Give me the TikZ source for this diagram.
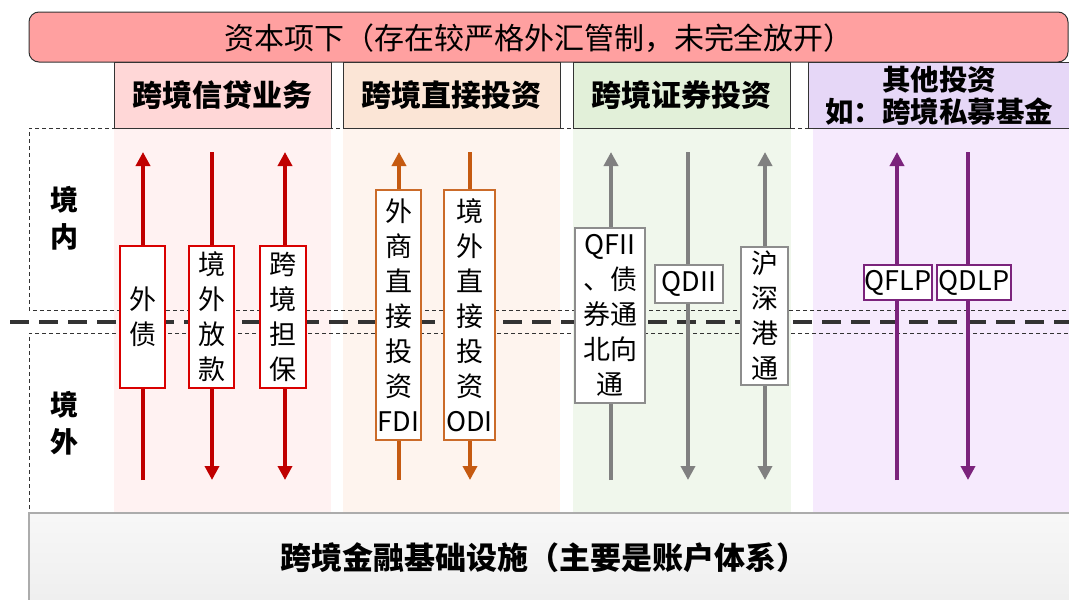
\documentclass[tikz,border=0pt]{standalone}
\usepackage{fontspec}
\newfontfamily\cjk{Noto Sans CJK SC}
\usetikzlibrary{arrows.meta}
\definecolor{banner}{HTML}{FFA0A0}
\definecolor{hA}{HTML}{FFD7D7}
\definecolor{hB}{HTML}{FBE5D6}
\definecolor{hC}{HTML}{E2F0D9}
\definecolor{hD}{HTML}{E6D7F7}
\definecolor{pA}{HTML}{FFF2F2}
\definecolor{pB}{HTML}{FEF4EE}
\definecolor{pC}{HTML}{F0F7EC}
\definecolor{pD}{HTML}{F6EAFD}
\definecolor{cred}{HTML}{C00000}
\definecolor{cora}{HTML}{C55A11}
\definecolor{cgry}{HTML}{808080}
\definecolor{cpur}{HTML}{7B237C}
\definecolor{dk}{HTML}{333333}
\tikzset{
  hdr/.style={draw=dk, line width=1pt, minimum height=66pt, inner sep=0pt,
    font=\cjk\bfseries\fontsize{30}{34}\selectfont, align=center},
  thindash/.style={draw=dk, line width=1pt, dash pattern=on 4pt off 3pt},
  thickdash/.style={draw=dk, line width=4pt, dash pattern=on 19pt off 10pt},
  flow/.style={line width=4pt},
  tipup/.style={-{Triangle[width=14pt,length=14pt]}},
  tipboth/.style={{Triangle[width=14pt,length=14pt]}-{Triangle[width=14pt,length=14pt]}},
  tag/.style={fill=white, line width=1.5pt, inner sep=0pt, align=center,
    font=\cjk\fontsize{27}{35}\selectfont},
  side/.style={font=\cjk\bfseries\fontsize{28}{37}\selectfont, align=center, inner sep=0pt},
}
\begin{document}
\begin{tikzpicture}[x=1pt,y=-1pt]
\useasboundingbox (0,0) rectangle (1069,600);
% column panels
\fill[pA] (114,128) rectangle (331,512);
\fill[pB] (343,128) rectangle (560,512);
\fill[pC] (573,128) rectangle (791,512);
\fill[pD] (813,128) rectangle (1075,512);
% dashed region frames
\draw[thindash] (1075,128) -- (29,128) -- (29,310) -- (1075,310);
\draw[thindash] (1075,333) -- (29,333) -- (29,512) -- (1075,512);
\draw[thickdash] (10,322) -- (1075,322);
% banner
\node[draw=dk, line width=1pt, fill=banner, rounded corners=10pt, minimum width=1039pt,
  minimum height=50pt, inner sep=0pt] (banner) at (548.5,37) {};
\node[font=\cjk\fontsize{30}{34}\selectfont, inner sep=0pt] (bannertxt) at (539,38)
  {资本项下（存在较严格外汇管制，未完全放开）};
% headers
\node[hdr, fill=hA, minimum width=217pt] (h1) at (222.5,95) {跨境信贷业务};
\node[hdr, fill=hB, minimum width=217pt] (h2) at (451.5,95) {跨境直接投资};
\node[hdr, fill=hC, minimum width=217pt] (h3) at (681.5,95) {跨境证券投资};
\node[hdr, fill=hD, minimum width=267pt] (h4) at (941.5,95) {};
\node[font=\cjk\bfseries\fontsize{28.5}{32}\selectfont, align=center, inner sep=0pt]
  (h4txt) at (939,96) {其他投资\\如：跨境私募基金};
% side labels
\node[side] (in) at (64,218.5) {境\\内};
\node[side] (out) at (64,423) {境\\外};
% arrow end points
\foreach \n/\x in {a1/143,a2/212,a3/285,b1/399,b2/470,c1/611,c2/688,c3/765,d1/897,d2/968}{
  \coordinate (\n t) at (\x,152);
  \coordinate (\n b) at (\x,480);
}
% arrows
\draw[flow, cred, tipup] (a1b) -- (a1t);
\draw[flow, cred, tipup] (a2t) -- (a2b);
\draw[flow, cred, tipboth] (a3t) -- (a3b);
\draw[flow, cora, tipup] (b1b) -- (b1t);
\draw[flow, cora, tipup] (b2t) -- (b2b);
\draw[flow, cgry, tipup] (c1b) -- (c1t);
\draw[flow, cgry, tipup] (c2t) -- (c2b);
\draw[flow, cgry, tipboth] (c3t) -- (c3b);
\draw[flow, cpur, tipup] (d1b) -- (d1t);
\draw[flow, cpur, tipup] (d2t) -- (d2b);
% tags
\node[tag, draw=red!85!black, minimum width=45pt, minimum height=142pt] (t1) at (142.5,317) {外\\债};
\node[tag, draw=red!85!black, minimum width=45pt, minimum height=142pt] (t2) at (211.5,317) {境\\外\\放\\款};
\node[tag, draw=red!85!black, minimum width=46pt, minimum height=142pt] (t3) at (283,317) {跨\\境\\担\\保};
\node[tag, draw=cora!90, minimum width=45pt, minimum height=250pt] (t4) at (398.5,315) {外\\商\\直\\接\\投\\资\\FDI};
\node[tag, draw=cora!90, minimum width=51pt, minimum height=250pt] (t5) at (469.5,315) {境\\外\\直\\接\\投\\资\\ODI};
\node[tag, draw=cgry!90, minimum width=70pt, minimum height=175pt] (t6) at (610,315.5) {QFII\\、债\\券通\\北向\\通};
\node[tag, draw=cgry!90, minimum width=68pt, minimum height=38pt] (t7) at (689,284) {QDII};
\node[tag, draw=cgry!90, minimum width=47pt, minimum height=138pt] (t8) at (764.5,316) {沪\\深\\港\\通};
\node[tag, draw=cpur, minimum width=68pt, minimum height=35pt] (t9) at (898,282.5) {QFLP};
\node[tag, draw=cpur, minimum width=74pt, minimum height=35pt] (t10) at (974,282.5) {QDLP};
% bottom infrastructure box
\node[draw=gray!65, line width=2pt, top color=gray!6, bottom color=gray!13,
  minimum width=1043pt, minimum height=92pt, inner sep=0pt] (infra) at (550.5,559) {};
\node[font=\cjk\bfseries\fontsize{31}{34}\selectfont, inner sep=0pt] (infratxt) at (544,558)
  {跨境金融基础设施（主要是账户体系）};
\end{tikzpicture}
\end{document}
